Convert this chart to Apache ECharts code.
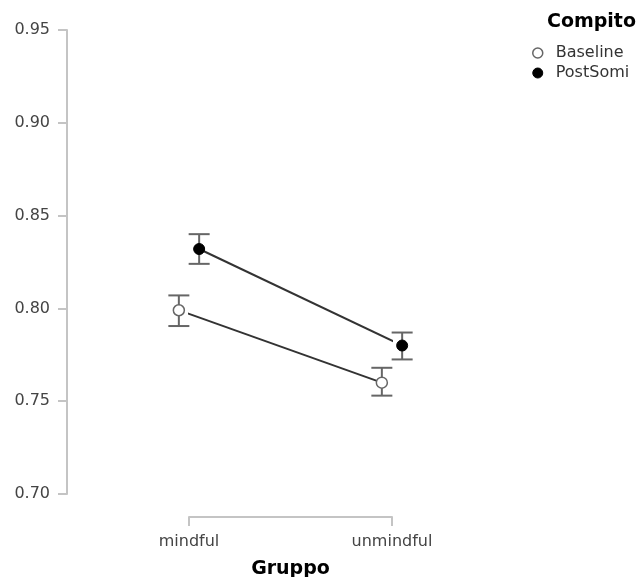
<!DOCTYPE html>
<html><head><meta charset="utf-8">
<script src="https://cdn.jsdelivr.net/npm/echarts@6/dist/echarts.min.js"></script>
<style>html,body{margin:0;padding:0;background:#fff}#c{width:644px;height:577px}</style>
</head><body><div id="c"></div>
<script>
var categories = ['mindful', 'unmindful'];
var seriesNames = ['Baseline', 'PostSomi'];
var baselineMean = [0.799, 0.760];
var baselineLow = [0.7905, 0.753];
var baselineHigh = [0.807, 0.768];
var postSomiMean = [0.832, 0.780];
var postSomiLow = [0.824, 0.7725];
var postSomiHigh = [0.840, 0.787];
var yMin = 0.70, yMax = 0.95, yStep = 0.05;

var FONT = '"DejaVu Sans", "Liberation Sans", Arial, sans-serif';
var DODGE = 0.05;
function pts(mean, shift) { return mean.map(function (v, i) { return [i + shift, v]; }); }
function errs(lo, hi, shift) { return lo.map(function (v, i) { return [i + shift, v, hi[i]]; }); }
function errRender(params, api) {
  var x = api.value(0);
  var a = api.coord([x, api.value(2)]);
  var b = api.coord([x, api.value(1)]);
  var w = 10.5;
  var st = { stroke: '#666', lineWidth: 2 };
  return { type: 'group', children: [
    { type: 'line', shape: { x1: a[0], y1: a[1], x2: b[0], y2: b[1] }, style: st },
    { type: 'line', shape: { x1: a[0] - w, y1: a[1], x2: a[0] + w, y2: a[1] }, style: st },
    { type: 'line', shape: { x1: b[0] - w, y1: b[1], x2: b[0] + w, y2: b[1] }, style: st }
  ]};
}
var chart = echarts.init(document.getElementById('c'));
chart.setOption({
  animation: false,
  textStyle: { fontFamily: FONT },
  title: { text: 'Compito', right: 3, top: 8, textStyle: { fontFamily: FONT, fontSize: 19, fontWeight: 'bold', color: '#000' } },
  legend: {
    orient: 'vertical', left: 527, top: 40, itemWidth: 10, itemHeight: 10, itemGap: 4,
    textStyle: { fontFamily: FONT, fontSize: 16, color: '#333', padding: [0, 0, 0, 8] },
    data: [
      { name: seriesNames[0], icon: 'circle', itemStyle: { color: '#fff', borderColor: '#666', borderWidth: 1.5 } },
      { name: seriesNames[1], icon: 'circle', itemStyle: { color: '#000', borderColor: '#000', borderWidth: 1 } }
    ]
  },
  grid: { left: 189, right: 252, top: 30, bottom: 83, containLabel: false, outerBoundsMode: 'none' },
  xAxis: {
    type: 'value', min: 0, max: 1, interval: 1, offset: 23,
    name: 'Gruppo', nameLocation: 'middle', nameGap: 43,
    nameTextStyle: { fontFamily: FONT, fontSize: 19, fontWeight: 'bold', color: '#000' },
    axisLine: { show: true, onZero: false, lineStyle: { color: '#c4c4c4', width: 2 } },
    axisTick: { show: true, length: 9, lineStyle: { color: '#c4c4c4', width: 2 } },
    axisLabel: { fontSize: 16, color: '#444', margin: 17, formatter: function (v) { return categories[Math.round(v)] || ''; } },
    splitLine: { show: false }
  },
  yAxis: {
    type: 'value', min: yMin, max: yMax, interval: yStep, offset: 122,
    axisLine: { show: true, onZero: false, lineStyle: { color: '#c4c4c4', width: 2 } },
    axisTick: { show: true, length: 9, lineStyle: { color: '#c4c4c4', width: 2 } },
    axisLabel: { fontSize: 16, color: '#444', margin: 17, formatter: function (v) { return v.toFixed(2); } },
    splitLine: { show: false }
  },
  series: [
    { name: seriesNames[0] + ' err', type: 'custom', renderItem: errRender, data: errs(baselineLow, baselineHigh, -DODGE), z: 2, silent: true, clip: false },
    { name: seriesNames[1] + ' err', type: 'custom', renderItem: errRender, data: errs(postSomiLow, postSomiHigh, DODGE), z: 2, silent: true, clip: false },
    { name: seriesNames[0], type: 'line', data: pts(baselineMean, -DODGE), symbol: 'circle', symbolSize: 11, z: 3, clip: false,
      itemStyle: { color: '#fff', borderColor: '#666', borderWidth: 1.5 }, lineStyle: { color: '#333', width: 2 } },
    { name: seriesNames[1], type: 'line', data: pts(postSomiMean, DODGE), symbol: 'circle', symbolSize: 11, z: 3, clip: false,
      itemStyle: { color: '#000', borderColor: '#000', borderWidth: 1 }, lineStyle: { color: '#333', width: 2 } }
  ]
});
</script></body></html>
